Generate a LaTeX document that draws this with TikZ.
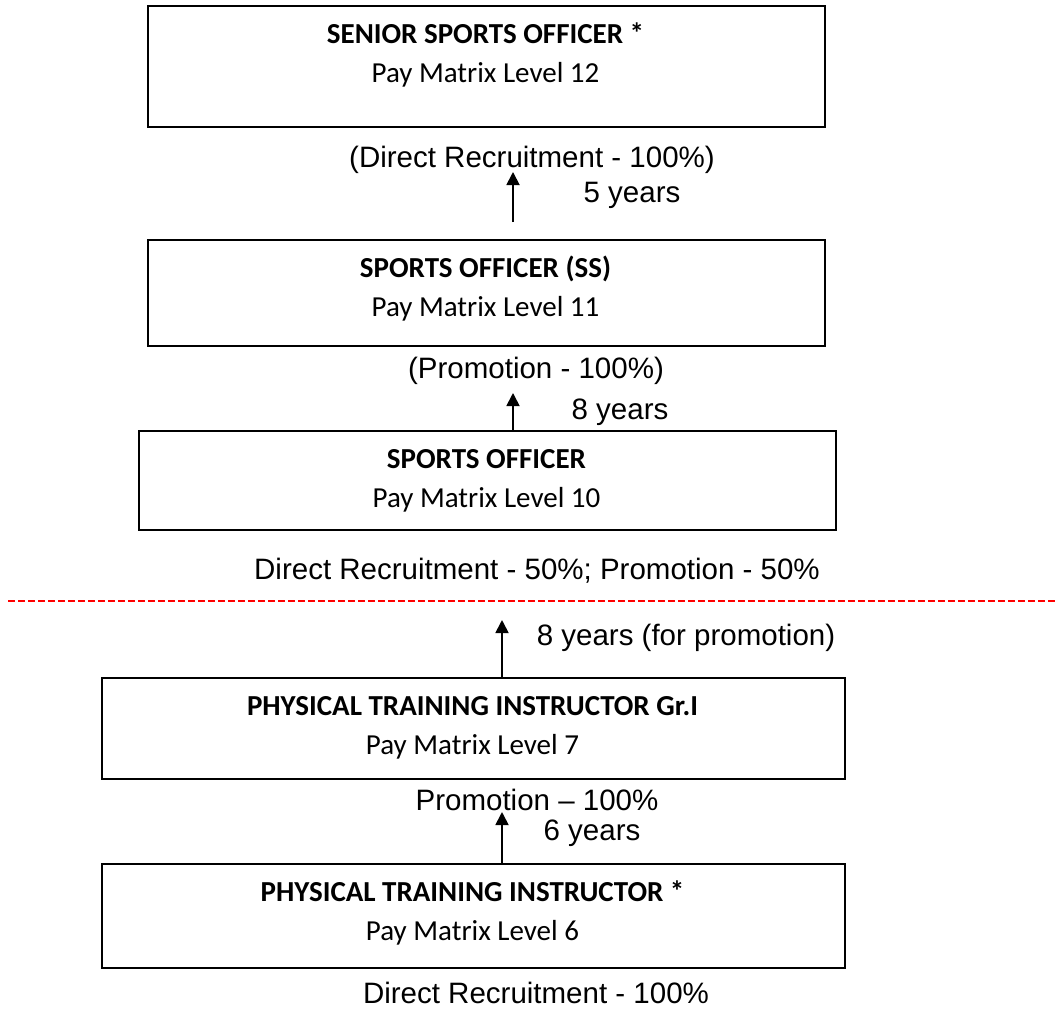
\documentclass[tikz,border=0pt]{standalone}
\usepackage{fontspec}
\setmainfont{Carlito}
\newfontfamily\arialf{Liberation Sans}
\usetikzlibrary{arrows.meta}
\begin{document}
\begin{tikzpicture}[x=1pt,y=-1pt,
  box/.style={draw=black,line width=1.8pt,inner sep=0pt,anchor=north west},
  ttl/.style={font=\bfseries\fontsize{29}{35}\selectfont,anchor=base,inner sep=0pt},
  sub/.style={font=\fontsize{29}{35}\selectfont,anchor=base,inner sep=0pt},
  lbl/.style={font=\arialf\fontsize{29.5}{35}\selectfont,anchor=base,inner sep=0pt},
  arr/.style={line width=1.8pt,-{Triangle[width=13pt,length=13pt]}},
  sep/.style={draw=red,line width=2.5pt,dash pattern=on 7pt off 3pt}]
\useasboundingbox (0,0) rectangle (1057,1015);
% boxes
\node[box,minimum width=677pt,minimum height=121pt] (b1) at (147,5) {};
\node[box,minimum width=677pt,minimum height=106pt] (b2) at (147,239) {};
\node[box,minimum width=697pt,minimum height=99pt] (b3) at (138,430) {};
\node[box,minimum width=743pt,minimum height=101pt] (b4) at (101,677) {};
\node[box,minimum width=743pt,minimum height=104pt] (b5) at (101,863) {};
% box texts
\node[ttl] (t1) at (485.5,43) {SENIOR SPORTS OFFICER *};
\node[sub] (s1) at (485.5,82) {Pay Matrix Level 12};
\node[ttl] (t2) at (485.5,277) {SPORTS OFFICER (SS)};
\node[sub] (s2) at (485.5,316) {Pay Matrix Level 11};
\node[ttl] (t3) at (486.5,468) {SPORTS OFFICER};
\node[sub] (s3) at (486.5,507) {Pay Matrix Level 10};
\node[ttl] (t4) at (472.5,715) {PHYSICAL TRAINING INSTRUCTOR Gr.I};
\node[sub] (s4) at (472.5,754) {Pay Matrix Level 7};
\node[ttl] (t5) at (472.5,901) {PHYSICAL TRAINING INSTRUCTOR *};
\node[sub] (s5) at (472.5,940) {Pay Matrix Level 6};
% labels
\node[lbl] (l1) at (532,167) {(Direct Recruitment - 100\%)};
\node[lbl] (y1) at (632,202) {5 years};
\node[lbl] (l2) at (536,378) {(Promotion - 100\%)};
\node[lbl] (y2) at (620,419) {8 years};
\node[lbl] (l3) at (537,579) {Direct Recruitment - 50\%; Promotion - 50\%};
\node[lbl] (y3) at (686,645) {8 years (for promotion)};
\node[lbl] (l4) at (537,810) {Promotion – 100\%};
\node[lbl] (y4) at (592,840) {6 years};
\node[lbl] (l5) at (536,1003) {Direct Recruitment - 100\%};
% separator
\coordinate (d1) at (8,601);
\coordinate (d2) at (1057,601);
\draw[sep] (d1) -- (d2);
% arrows
\coordinate (a1s) at (513,222);
\coordinate (a1e) at (513,172);
\draw[arr] (a1s) -- (a1e);
\coordinate (a2e) at (513,393);
\draw[arr] (b3.north -| a2e) -- (a2e);
\coordinate (a3e) at (502,620);
\draw[arr] (b4.north -| a3e) -- (a3e);
\coordinate (a4e) at (502,812);
\draw[arr] (b5.north -| a4e) -- (a4e);
\end{tikzpicture}
\end{document}
